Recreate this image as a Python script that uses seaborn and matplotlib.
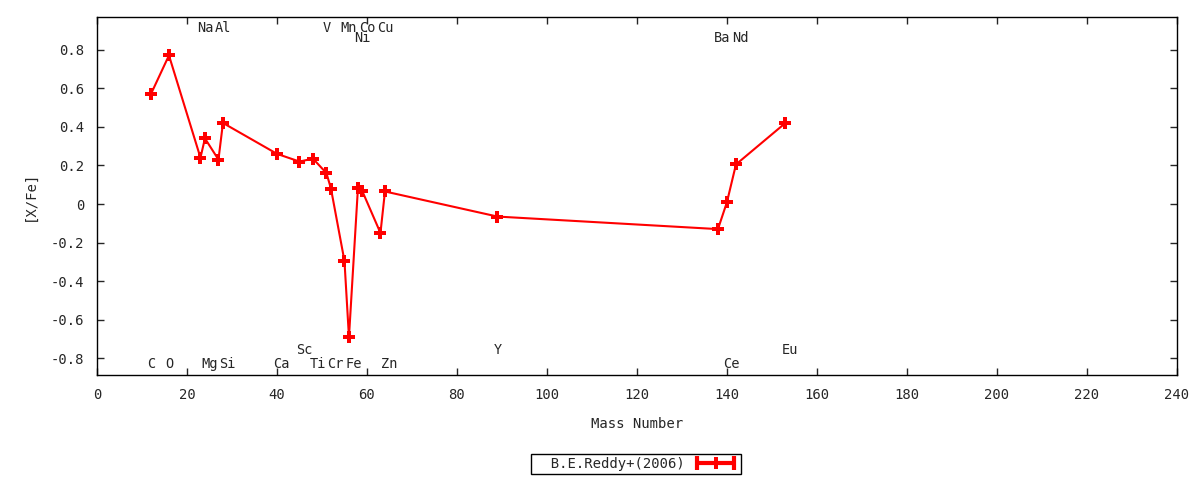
import matplotlib
matplotlib.use("Agg")
import matplotlib.pyplot as plt
import seaborn as sns
from matplotlib.lines import Line2D
from matplotlib.legend_handler import HandlerLine2D, HandlerTuple

# Abundance pattern
elements = ['C', 'O', 'Na', 'Mg', 'Al', 'Si', 'Ca', 'Sc', 'Ti', 'V', 'Cr', 'Mn',
            'Fe', 'Ni', 'Co', 'Cu', 'Zn', 'Y', 'Ba', 'Ce', 'Nd', 'Eu']
mass = [12, 16, 23, 24, 27, 28, 40, 45, 48, 51, 52, 55,
        56, 58, 59, 63, 64, 89, 138, 140, 142, 153]
xfe = [0.57, 0.77, 0.24, 0.34, 0.23, 0.42, 0.26, 0.22, 0.235, 0.16, 0.08, -0.295,
       -0.69, 0.085, 0.065, -0.15, 0.065, -0.065, -0.13, 0.01, 0.205, 0.42]
# label rows: 0 = top, 1 = top (second line), 2 = bottom, 3 = bottom (raised)
label_row = [2, 2, 0, 2, 0, 2, 2, 3, 2, 0, 2, 0,
             2, 1, 0, 0, 2, 3, 1, 2, 1, 3]
row_y = [0.912, 0.86, -0.83, -0.757]

xticks = list(range(0, 241, 20))
yticks = [0.8, 0.6, 0.4, 0.2, 0, -0.2, -0.4, -0.6, -0.8]

sns.set_style("ticks")
plt.rcParams['font.family'] = ['DejaVu Sans Mono']
plt.rcParams['font.size'] = 10

fig = plt.figure(figsize=(12, 4.8), dpi=100)
ax = fig.add_axes([0.0808, 0.2187, 0.9, 0.7459])

sns.lineplot(x=mass, y=xfe, ax=ax, color='red', linewidth=1.5,
             marker='P', markersize=8, markeredgewidth=0, sort=False)

for el, m, r in zip(elements, mass, label_row):
    ax.text(m - 0.8, row_y[r], el, ha='left', va='center', fontsize=9.8)

ax.set_xlim(0, 240)
ax.set_ylim(-0.886, 0.969)
ax.set_xticks(xticks)
ax.set_xticklabels([str(t) for t in xticks])
ax.set_yticks(yticks)
ax.set_yticklabels(['0' if t == 0 else '%.1f' % t for t in yticks])
ax.tick_params(direction='in', top=True, right=True, length=5, width=1,
               labelsize=10, pad=9)
for s in ax.spines.values():
    s.set_linewidth(1)
    s.set_color('black')

ax.set_xlabel('Mass Number', fontsize=10, labelpad=11)
ax.set_ylabel('[X/Fe]', fontsize=10, labelpad=10)

# legend sample: thick line with end caps and a cross in the middle
caps = Line2D([], [], color='red', linewidth=3, marker='|', markersize=10, markeredgewidth=3)
cross = Line2D([], [], color='red', linewidth=0, marker='P', markersize=8, markeredgewidth=0)
leg = fig.legend([(caps, cross)], ['  B.E.Reddy+(2006)'],
                 handler_map={caps: HandlerLine2D(numpoints=2),
                              cross: HandlerLine2D(numpoints=1),
                              tuple: HandlerTuple(ndivide=1, pad=0)},
                 loc='center', bbox_to_anchor=(0.53, 0.033), markerfirst=False,
                 frameon=True, fancybox=False, edgecolor='black', framealpha=1,
                 handlelength=3.2, handletextpad=0.6, borderpad=0.2,
                 borderaxespad=0, fontsize=10)
leg.get_frame().set_linewidth(1)

fig.savefig('out.png', dpi=100)
